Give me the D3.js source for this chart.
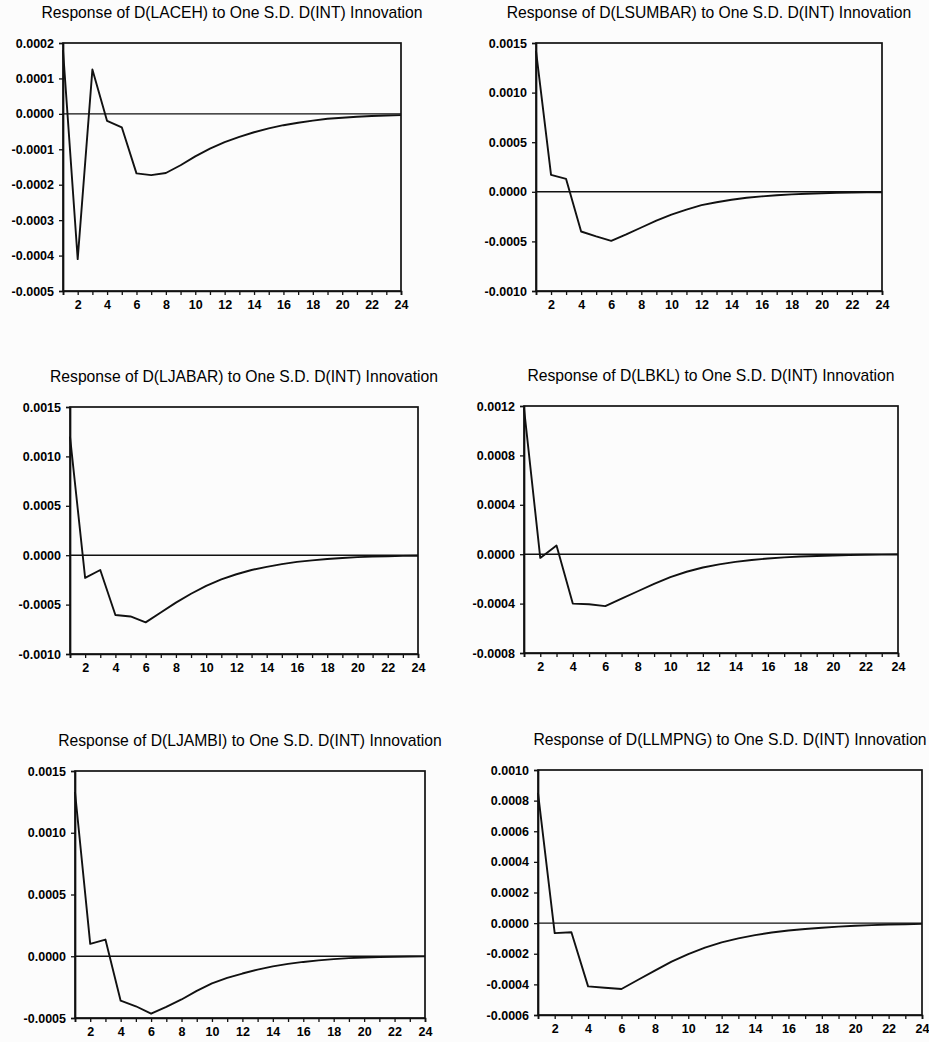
<!DOCTYPE html>
<html>
<head>
<meta charset="utf-8">
<script src="https://cdn.jsdelivr.net/npm/d3@7"></script>
<style>
  body { margin: 0; background: #fcfcfc; }
  svg { display: block; }
  text { font-family: "Liberation Sans", Arial, sans-serif; }
</style>
</head>
<body>
<svg id="chart" width="929" height="1042"></svg>
<script>
// Forecast horizon (periods)
const periods = [1, 2, 3, 4, 5, 6, 7, 8, 9, 10, 11, 12, 13, 14, 15, 16, 17, 18, 19, 20, 21, 22, 23, 24];
const xLabelTicks = [2, 4, 6, 8, 10, 12, 14, 16, 18, 20, 22, 24];

// Chart titles
const titles = [
  "Response of D(LACEH) to One S.D. D(INT) Innovation",
  "Response of D(LSUMBAR) to One S.D. D(INT) Innovation",
  "Response of D(LJABAR) to One S.D. D(INT) Innovation",
  "Response of D(LBKL) to One S.D. D(INT) Innovation",
  "Response of D(LJAMBI) to One S.D. D(INT) Innovation",
  "Response of D(LLMPNG) to One S.D. D(INT) Innovation"
];

// Impulse responses
const respLACEH = [0.00018, -0.00041, 0.000125, -0.00002, -0.000038, -0.000168, -0.000173, -0.000167, -0.000145, -0.00012,
  -0.000098, -0.00008, -0.000065, -0.000052, -0.000041, -0.000032, -0.000025, -0.000019, -0.000014, -0.000011,
  -0.000008, -0.000006, -0.0000045, -0.0000035];
const respLSUMBAR = [0.00142, 0.00017, 0.00013, -0.0004, -0.00045, -0.000495, -0.00043, -0.00036, -0.00029, -0.00023,
  -0.00018, -0.000135, -0.000105, -0.00008, -0.00006, -0.000046, -0.000035, -0.000026, -0.000019, -0.000014,
  -0.00001, -0.000007, -0.000005, -0.000004];
const respLJABAR = [0.0012, -0.00023, -0.00015, -0.000605, -0.00062, -0.00068, -0.00058, -0.00048, -0.00039, -0.00031,
  -0.000245, -0.000193, -0.00015, -0.000118, -0.00009, -0.000068, -0.000052, -0.000038, -0.000028, -0.00002,
  -0.000014, -0.00001, -0.000007, -0.000005];
const respLBKL = [0.00118, -0.00003, 0.00007, -0.0004, -0.000405, -0.00042, -0.00036, -0.0003, -0.00024, -0.000185,
  -0.000142, -0.000108, -0.000082, -0.000062, -0.000047, -0.000035, -0.000026, -0.000019, -0.000014, -0.00001,
  -0.000007, -0.000005, -0.0000035, -0.0000025];
const respLJAMBI = [0.00133, 0.0001, 0.000135, -0.00036, -0.000405, -0.000465, -0.00041, -0.00035, -0.00028, -0.00022,
  -0.000175, -0.00014, -0.000108, -0.000082, -0.000062, -0.000046, -0.000033, -0.000023, -0.000015, -0.00001,
  -0.000006, -0.000004, -0.000002, -0.000001];
const respLLMPNG = [0.00085, -0.000065, -0.00006, -0.000413, -0.000422, -0.00043, -0.00037, -0.00031, -0.000252, -0.000202,
  -0.00016, -0.000126, -0.0001, -0.000078, -0.000061, -0.000048, -0.000038, -0.00003, -0.000023, -0.000017,
  -0.000013, -0.000009, -0.000007, -0.000005];

// Y-axis tick values per panel
const yTicksLACEH = [-0.0005, -0.0004, -0.0003, -0.0002, -0.0001, 0, 0.0001, 0.0002];
const yTicksLSUMBAR = [-0.0010, -0.0005, 0, 0.0005, 0.0010, 0.0015];
const yTicksLJABAR = [-0.0010, -0.0005, 0, 0.0005, 0.0010, 0.0015];
const yTicksLBKL = [-0.0008, -0.0004, 0, 0.0004, 0.0008, 0.0012];
const yTicksLJAMBI = [-0.0005, 0, 0.0005, 0.0010, 0.0015];
const yTicksLLMPNG = [-0.0006, -0.0004, -0.0002, 0, 0.0002, 0.0004, 0.0006, 0.0008, 0.0010];

// Panel boxes (pixels) paired with their data
const panels = [
  { title: titles[0], values: respLACEH, ticks: yTicksLACEH, left: 63, right: 401, top: 43, bottom: 291 },
  { title: titles[1], values: respLSUMBAR, ticks: yTicksLSUMBAR, left: 536, right: 882, top: 43, bottom: 291 },
  { title: titles[2], values: respLJABAR, ticks: yTicksLJABAR, left: 70, right: 418, top: 407, bottom: 654 },
  { title: titles[3], values: respLBKL, ticks: yTicksLBKL, left: 524, right: 898, top: 406, bottom: 653 },
  { title: titles[4], values: respLJAMBI, ticks: yTicksLJAMBI, left: 75, right: 425, top: 771, bottom: 1018 },
  { title: titles[5], values: respLLMPNG, ticks: yTicksLLMPNG, left: 538, right: 922, top: 770, bottom: 1015 }
];

const ink = "#111";
const fmt = d3.format(".4f");
const svg = d3.select("#chart");

panels.forEach((p) => drawPanel(p));

function drawPanel(p) {
  const g = svg.append("g");

  const x = d3.scaleLinear().domain([1, 24]).range([p.left, p.right]);
  const y = d3
    .scaleLinear()
    .domain([p.ticks[0], p.ticks[p.ticks.length - 1]])
    .range([p.bottom, p.top]);

  // Title
  g.append("text")
    .attr("x", (p.left + p.right) / 2)
    .attr("y", p.top - 25)
    .attr("text-anchor", "middle")
    .attr("font-size", "15.7px")
    .attr("fill", "#000")
    .text(p.title);

  // X axis: a tick every period, label every even one
  const xAxis = g
    .append("g")
    .attr("transform", `translate(0, ${p.bottom})`)
    .call(
      d3.axisBottom(x)
        .tickValues(periods)
        .tickSize(4)
        .tickPadding(5)
        .tickFormat((d) => (xLabelTicks.includes(d) ? d : ""))
    );

  // Y axis
  const yAxis = g
    .append("g")
    .attr("transform", `translate(${p.left}, 0)`)
    .call(
      d3.axisLeft(y)
        .tickValues(p.ticks)
        .tickSize(4)
        .tickPadding(5)
        .tickFormat((d) => fmt(d).replace("\u2212", "-"))
    );

  [xAxis, yAxis].forEach((a) => {
    a.selectAll("path.domain").attr("stroke", ink).attr("stroke-width", 1.7);
    a.selectAll(".tick line").attr("stroke", ink).attr("stroke-width", 1.3);
    a.selectAll(".tick text")
      .attr("fill", "#000")
      .attr("font-size", "12.5px")
      .attr("font-weight", "bold")
      .attr("font-family", "'Liberation Sans', Arial, sans-serif");
  });

  // Frame
  g.append("rect")
    .attr("x", p.left)
    .attr("y", p.top)
    .attr("width", p.right - p.left)
    .attr("height", p.bottom - p.top)
    .attr("fill", "none")
    .attr("stroke", ink)
    .attr("stroke-width", 1.7);

  // Zero line
  g.append("line")
    .attr("x1", x(1))
    .attr("x2", x(24))
    .attr("y1", y(0))
    .attr("y2", y(0))
    .attr("stroke", ink)
    .attr("stroke-width", 1.4);

  // Response line
  const line = d3
    .line()
    .x((d, i) => x(periods[i]))
    .y((d) => y(d));

  g.append("path")
    .datum(p.values)
    .attr("d", line)
    .attr("fill", "none")
    .attr("stroke", ink)
    .attr("stroke-width", 1.9)
    .attr("stroke-linejoin", "round");
}
</script>
</body>
</html>
